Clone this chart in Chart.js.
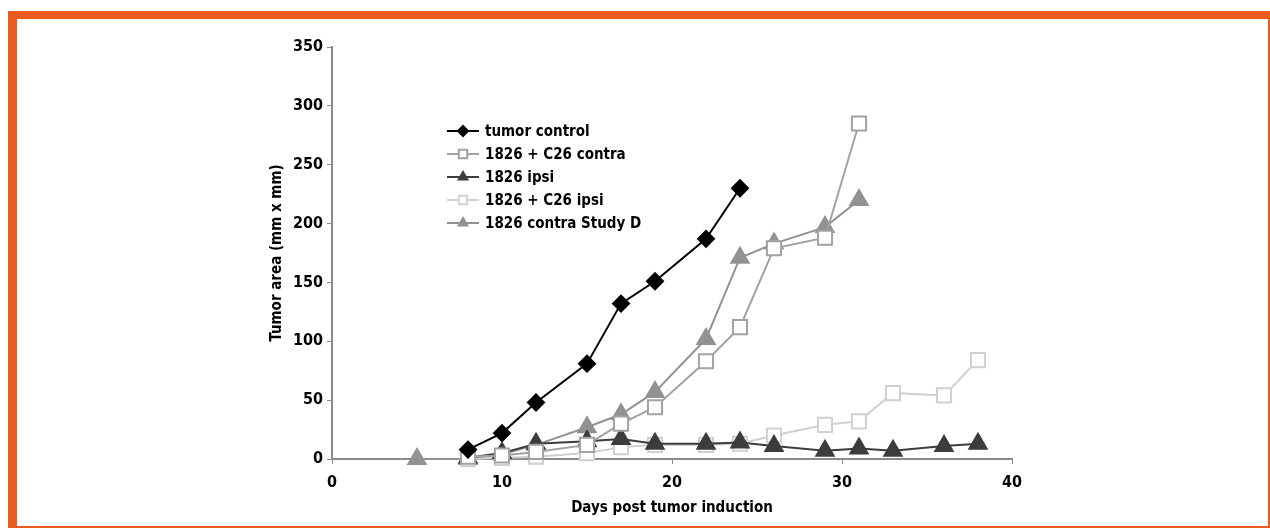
<!DOCTYPE html>
<html>
<head>
<meta charset="utf-8">
<script src="https://cdn.jsdelivr.net/npm/chart.js@4"></script>
<style>
  html, body { margin: 0; padding: 0; background: #fff; }
  #wrap { position: relative; width: 1270px; height: 528px; }
  #frame {
    position: absolute; left: 8px; top: 11px; width: 1262px; height: 517px;
    box-sizing: border-box; pointer-events: none;
    border-top: 8px solid #e85c20; border-left: 9px solid #e85c20;
    border-right: 2px solid #e85c20; border-bottom: 2px solid #e85c20;
  }
</style>
</head>
<body>
<div id="wrap">
  <canvas id="myChart" width="1270" height="528"></canvas>
  <div id="frame"></div>
</div>
<script>
const seriesNames = ['tumor control', '1826 + C26 contra', '1826 ipsi', '1826 + C26 ipsi', '1826 contra Study D']

const controlDays = [8, 10, 12, 15, 17, 19, 22, 24]
const controlArea = [8, 22, 48, 81, 132, 151, 187, 230]

const c26ContraDays = [8, 10, 12, 15, 17, 19, 22, 24, 26, 29, 31]
const c26ContraArea = [2, 3, 6, 12, 30, 44, 83, 112, 179, 188, 285]

const ipsiDays = [8, 10, 12, 15, 17, 19, 22, 24, 26, 29, 31, 33, 36, 38]
const ipsiArea = [1, 5, 13, 15, 17, 13, 13, 14, 11, 7, 9, 7, 11, 13]

const c26IpsiDays = [8, 10, 12, 15, 17, 19, 22, 24, 26, 29, 31, 33, 36, 38]
const c26IpsiArea = [0, 1, 2, 5, 10, 12, 12, 13, 20, 29, 32, 56, 54, 84]

const studyDDays = [5, 8, 10, 12, 15, 17, 19, 22, 24, 26, 29, 31]
const studyDArea = [0, 0, 4, 12, 27, 38, 57, 102, 171, 183, 197, 220]

const xTicks = [0, 10, 20, 30, 40]
const yTicks = [0, 50, 100, 150, 200, 250, 300, 350]

const font = "'Liberation Sans Narrow', 'Arial Narrow', 'DejaVu Sans Condensed', sans-serif"

function toPoints(days, vals) {
    return days.map((d, i) => ({ x: d, y: vals[i] }))
}

const datasets = [
    { label: seriesNames[0], data: toPoints(controlDays, controlArea),
      borderColor: '#000', backgroundColor: '#000', pointStyle: 'rectRot', pointRadius: 8, legendRadius: 5 },
    { label: seriesNames[1], data: toPoints(c26ContraDays, c26ContraArea),
      borderColor: '#a2a2a2', backgroundColor: '#fff', pointStyle: 'rect', pointRadius: 10, legendRadius: 6 },
    { label: seriesNames[2], data: toPoints(ipsiDays, ipsiArea),
      borderColor: '#3c3c3c', backgroundColor: '#3c3c3c', pointStyle: 'triangle', pointRadius: 10, legendRadius: 5 },
    { label: seriesNames[3], data: toPoints(c26IpsiDays, c26IpsiArea),
      borderColor: '#d0d0d0', backgroundColor: '#fff', pointStyle: 'rect', pointRadius: 10, legendRadius: 6 },
    { label: seriesNames[4], data: toPoints(studyDDays, studyDArea),
      borderColor: '#929292', backgroundColor: '#929292', pointStyle: 'triangle', pointRadius: 10, legendRadius: 5 }
].map(ds => Object.assign(ds, { borderWidth: 2, pointBorderWidth: 2, tension: 0, fill: false, clip: false }))

// legend drawn inside the plot, top-left
const insideLegend = {
    id: 'insideLegend',
    afterDatasetsDraw(chart) {
        const ctx = chart.ctx
        chart.data.datasets.forEach((ds, i) => {
            const y = 131 + i * 23
            const x0 = 447, x1 = 479
            ctx.save()
            ctx.strokeStyle = ds.borderColor
            ctx.lineWidth = 2
            ctx.beginPath()
            ctx.moveTo(x0, y)
            ctx.lineTo(x1, y)
            ctx.stroke()
            ctx.fillStyle = ds.backgroundColor
            Chart.helpers.drawPoint(ctx, { pointStyle: ds.pointStyle, radius: ds.legendRadius, borderWidth: 2, rotation: 0 }, (x0 + x1) / 2, y)
            ctx.fillStyle = '#000'
            ctx.font = 'bold 15px ' + font
            ctx.textBaseline = 'middle'
            ctx.fillText(ds.label, 485, y + 1)
            ctx.restore()
        })
    }
}

const myChart = new Chart(document.getElementById('myChart'), {
    type: 'line',
    data: { datasets: datasets },
    plugins: [insideLegend],
    options: {
        responsive: false,
        animation: false,
        layout: { padding: { left: 268, right: 258, top: 47, bottom: 11 } },
        plugins: { legend: { display: false }, tooltip: { enabled: false } },
        scales: {
            x: {
                type: 'linear', min: 0, max: 40,
                afterBuildTicks: s => { s.ticks = xTicks.map(v => ({ value: v })) },
                afterFit: s => { s.height = 58 },
                border: { color: '#8a8a8a', width: 2 },
                grid: { drawOnChartArea: false, drawTicks: true, tickLength: 5, color: '#8a8a8a', lineWidth: 1 },
                ticks: { color: '#000', font: { family: font, size: 16, weight: 'bold' }, padding: 9, maxRotation: 0 },
                title: { display: true, text: 'Days post tumor induction', color: '#000',
                         font: { family: font, size: 15, weight: 'bold' }, padding: { top: 4, bottom: 0 } }
            },
            y: {
                min: 0, max: 350,
                afterBuildTicks: s => { s.ticks = yTicks.map(v => ({ value: v })) },
                afterFit: s => { s.width = 64 },
                border: { color: '#8a8a8a', width: 2 },
                grid: { drawOnChartArea: false, drawTicks: true, tickLength: 5, color: '#8a8a8a', lineWidth: 1 },
                ticks: { color: '#000', font: { family: font, size: 16, weight: 'bold' }, padding: 4 },
                title: { display: true, text: 'Tumor area (mm x mm)', color: '#000',
                         font: { family: font, size: 15, weight: 'bold' }, padding: 0 }
            }
        }
    }
})
</script>
</body>
</html>
